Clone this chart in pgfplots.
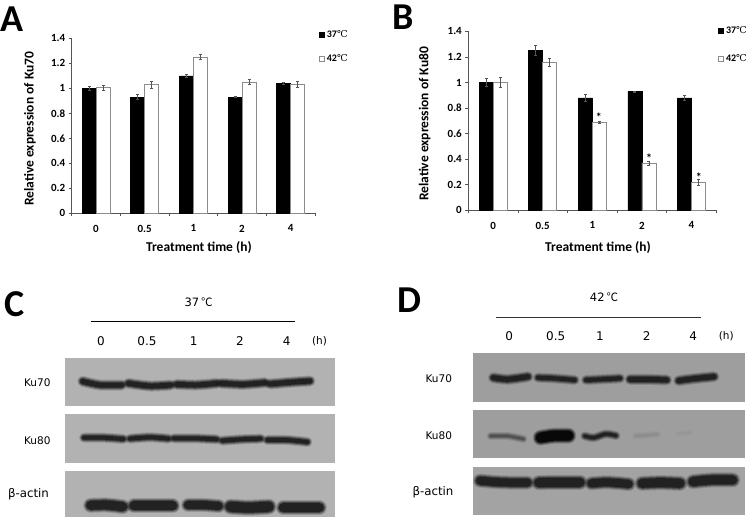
\documentclass[border=0pt]{standalone}
\usepackage{fontspec}
\usepackage{pgfplots}
\pgfplotsset{compat=1.18}
\setmainfont{Carlito}
\newfontfamily\blotfont{DejaVu Sans}
\newfontfamily\degfont{Noto Sans CJK SC}
\newfontfamily\legdeg{DejaVu Serif}
\newcommand{\legC}{{\legdeg\mdseries\fontsize{9.5}{10}\selectfont ℃}}
\definecolor{axisgray}{HTML}{555555}
\definecolor{whiteedge}{HTML}{8C8C8C}
\definecolor{errgray}{HTML}{555555}
\definecolor{bandc}{HTML}{1A1A1A}

\pgfplotsset{
  barpanel/.style={
    scale only axis, ybar,
    axis lines*=left, axis line style={axisgray,-,line width=0.7pt},
    xmin=-0.5, xmax=4.5, ymin=0, ymax=1.4,
    xtick=data, xticklabels={0,0.5,1,2,4},
    minor xtick={-0.5,0.5,1.5,2.5,3.5,4.5},
    ytick={0,0.2,0.4,0.6,0.8,1,1.2,1.4},
    major x tick style={draw=none},
    minor tick length=3pt, major tick length=3pt,
    tick align=outside,
    tick style={axisgray,line width=0.7pt},
    tick label style={font=\fontsize{11}{12}\selectfont\bfseries},
    /pgf/number format/assume math mode=true,
    xticklabel style={yshift=-5pt},
    label style={font=\fontsize{13.5}{15}\selectfont\bfseries},
    clip=false,
    legend cell align=left,
    legend image code/.code={\draw[##1] (0pt,-2.5pt) rectangle (5pt,2.5pt);},
  },
  blackbars/.style={draw=black, fill=black, bar width=14pt, bar shift=-7pt, line width=0.5pt, errs},
  whitebars/.style={draw=whiteedge, fill=white, bar width=14pt, bar shift=7pt, line width=0.8pt, errs},
  errs/.style={
    error bars/y dir=both, error bars/y explicit,
    error bars/error bar style={errgray,line width=0.5pt},
    error bars/error mark options={rotate=90,errgray,mark size=1.5pt,line width=0.5pt},
  },
  blotpanel/.style={
    scale only axis, hide axis, clip=false,
    ymin=0, ymax=744, y dir=reverse,
  },
}

% one blurred blot band: core darkness #1, width #2 (px), path #3
\newcommand{\band}[3]{%
  \addplot[smooth,line cap=round,draw=#1,opacity=0.18,line width=#2+4pt] coordinates {#3};
  \addplot[smooth,line cap=round,draw=#1,opacity=0.30,line width=#2+2pt] coordinates {#3};
  \addplot[smooth,line cap=round,draw=#1,opacity=0.5,line width=#2] coordinates {#3};
  \addplot[smooth,line cap=round,draw=#1,opacity=0.8,line width=#2-2pt] coordinates {#3};
}
\newcommand{\membrane}[5]{%
  \addplot[draw=none,fill=#5] coordinates {(#1,#3) (#2,#3) (#2,#4) (#1,#4)} -- cycle;
}

\begin{document}
\begin{tikzpicture}[x=1pt,y=1pt]
\path[use as bounding box] (0,0) rectangle (747,518);

% --- A ---
\begin{axis}[barpanel, at={(71.7pt,304.7pt)}, anchor=south west, width=243.3pt, height=175pt,
  ylabel={Relative expression of Ku70}, xlabel={Treatment time (h)},
  y label style={at={(axis description cs:-0.172,0.483)},anchor=center},
  x label style={at={(axis description cs:0.523,-0.198)},anchor=center},
  legend style={at={(axis description cs:1.016,1.06)},anchor=north west,draw=none,fill=none,
    inner sep=0pt,row sep=12pt,font=\fontsize{10}{11}\selectfont\bfseries}]
\addplot[blackbars] coordinates {
  (0,1.00) +- (0,0.015)
  (1,0.93) +- (0,0.02)
  (2,1.10) +- (0,0.01)
  (3,0.93) +- (0,0.005)
  (4,1.04) +- (0,0.01)
};
\addlegendentry{37\legC}
\addplot[whitebars] coordinates {
  (0,1.005) +- (0,0.02)
  (1,1.03) +- (0,0.03)
  (2,1.25) +- (0,0.02)
  (3,1.05) +- (0,0.02)
  (4,1.03) +- (0,0.025)
};
\addlegendentry{42\legC}
\end{axis}

% --- B ---
\begin{axis}[barpanel, at={(468.3pt,307.7pt)}, anchor=south west, width=248pt, height=179pt,
  ylabel={Relative expression of Ku80}, xlabel={Treatment time (h)},
  y label style={at={(axis description cs:-0.176,0.482)},anchor=center},
  x label style={at={(axis description cs:0.523,-0.207)},anchor=center},
  legend style={at={(axis description cs:1.007,1.037)},anchor=north west,draw=none,fill=none,
    inner sep=0pt,row sep=15pt,font=\fontsize{10}{11}\selectfont\bfseries}]
\addplot[blackbars] coordinates {
  (0,1.00) +- (0,0.03)
  (1,1.25) +- (0,0.04)
  (2,0.88) +- (0,0.03)
  (3,0.93) +- (0,0.003)
  (4,0.88) +- (0,0.02)
};
\addlegendentry{37\legC}
\addplot[whitebars] coordinates {
  (0,1.00) +- (0,0.04)
  (1,1.16) +- (0,0.03)
  (2,0.69) +- (0,0.01)
  (3,0.37) +- (0,0.015)
  (4,0.22) +- (0,0.025)
};
\addlegendentry{42\legC}
% significance stars
\addplot[draw=none,forget plot,bar shift=0pt,fill=none,
  nodes near coords={*},
  nodes near coords style={anchor=center,font=\fontsize{12}{12}\selectfont\bfseries}]
  coordinates {(2.134,0.73) (3.147,0.41) (4.15,0.26)};
\end{axis}

% --- C --- (coordinates: px in the 3x crop of the lower left part)
\begin{axis}[blotpanel, at={(0pt,0pt)}, anchor=south west, width=374pt, height=248pt, xmin=0, xmax=1122]
\membrane{196}{1004}{263}{408}{black!30}
\membrane{196}{1004}{432}{578}{black!30}
\membrane{196}{1004}{603}{742}{black!30}
% Ku70
\band{bandc}{7pt}{(248,334) (300,345) (365,345)}
\band{bandc}{7pt}{(385,340) (450,348) (512,345)}
\band{bandc}{7pt}{(530,343) (590,345) (650,340)}
\band{bandc}{7pt}{(664,340) (730,343) (795,338)}
\band{bandc}{7pt}{(810,342) (870,337) (930,333)}
% Ku80
\band{bandc}{6pt}{(252,503) (310,503) (370,507)}
\band{bandc}{6pt}{(390,506) (450,502) (505,506)}
\band{bandc}{6pt}{(522,505) (585,505) (650,508)}
\band{bandc}{6pt}{(667,512) (725,508) (782,506)}
\band{bandc}{6pt}{(802,510) (860,510) (922,516)}
% beta-actin
\band{bandc}{11pt}{(272,706) (320,705) (368,710)}
\band{bandc}{11pt}{(402,708) (460,708) (518,708)}
\band{bandc}{10pt}{(564,705) (610,705) (656,708)}
\band{bandc}{12pt}{(692,710) (745,713) (806,710)}
\band{bandc}{11pt}{(850,713) (900,713) (958,713)}
\addplot[black,line width=0.7pt] coordinates {(272,155) (885,155)};
\end{axis}

% --- D ---
\begin{axis}[blotpanel, at={(374pt,0pt)}, anchor=south west, width=373pt, height=248pt, xmin=0, xmax=1119]
\membrane{297}{1112}{249}{395}{black!38}
\membrane{297}{1112}{419}{565}{black!38}
\membrane{297}{1112}{590}{736}{black!36}
% Ku70
\band{bandc}{7pt}{(358,323) (400,328) (462,320)}
\band{bandc}{6pt}{(492,323) (540,325) (602,330)}
\band{bandc}{6pt}{(636,330) (680,328) (738,325)}
\band{bandc}{7pt}{(768,328) (820,328) (878,330)}
\band{bandc}{7pt}{(914,332) (960,326) (1020,320)}
% Ku80
\band{black!70}{4pt}{(350,498) (400,498) (448,507)}
\band{black}{12pt}{(500,503) (540,497) (583,497)}
\band{bandc}{5pt}{(632,498) (660,503) (695,492) (726,497)}
\band{black!46}{3pt}{(785,498) (850,493)}
\band{black!41}{2pt}{(912,491) (950,488)}
% beta-actin
\band{bandc}{10pt}{(318,632) (380,637) (460,638)}
\band{bandc}{11pt}{(494,638) (550,637) (618,637)}
\band{bandc}{10pt}{(652,640) (700,637) (764,642)}
\band{bandc}{11pt}{(804,640) (860,638) (918,640)}
\band{bandc}{11pt}{(957,635) (1010,630) (1076,630)}
\addplot[black!80,line width=0.7pt] coordinates {(365,141) (982,141)};
\end{axis}

% panel letters
\node[font=\fontsize{38}{38}\selectfont\bfseries] at (12,499) {A};
\node[font=\fontsize{38}{38}\selectfont\bfseries] at (403.5,501) {B};
\node[font=\fontsize{38}{38}\selectfont\bfseries] at (15,213.5) {C};
\node[font=\fontsize{38}{38}\selectfont\bfseries] at (409,217.5) {D};

% blot labels
\begin{scope}[font=\blotfont\fontsize{10.5}{12}\selectfont]
\node[font=\blotfont\fontsize{11.5}{12}\selectfont] at (198.7,215.5) {37\,{\degfont ℃}};
\foreach \x/\t in {101/0,147/0.5,193.7/1,240/2,286.7/4}
  \node[font=\blotfont\fontsize{12}{12}\selectfont] at (\x,176.5) {\t};
\node at (319.5,176.5) {(h)};
\node[anchor=east] at (54,135.5) {Ku70};
\node[anchor=east] at (54,77) {Ku80};
\node[anchor=east,font=\blotfont\fontsize{11.8}{12}\selectfont] at (52.5,23.7) {β-actin};

\node[font=\blotfont\fontsize{11.5}{12}\selectfont] at (604,220.5) {42\,{\degfont ℃}};
\foreach \x/\t in {509.3/0,555.7/0.5,600/1,646.7/2,693.3/4}
  \node[font=\blotfont\fontsize{12}{12}\selectfont] at (\x,181.5) {\t};
\node at (726.3,181.5) {(h)};
\node[anchor=east] at (455.5,139) {Ku70};
\node[anchor=east] at (455.5,82.5) {Ku80};
\node[anchor=east,font=\blotfont\fontsize{11.8}{12}\selectfont] at (457,25.5) {β-actin};
\end{scope}
\end{tikzpicture}
\end{document}
